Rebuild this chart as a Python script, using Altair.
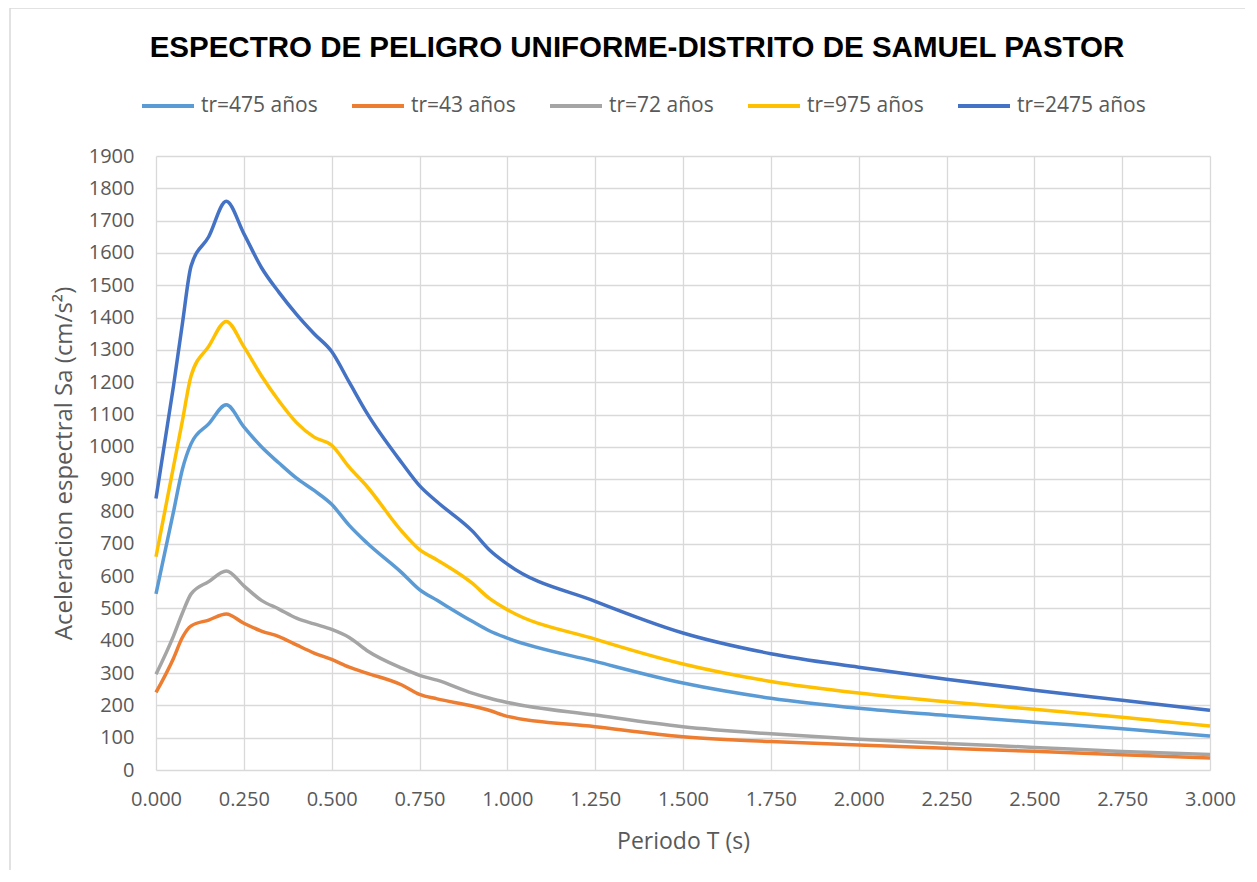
import altair as alt
import pandas as pd

periods = [0.0, 0.05, 0.075, 0.1, 0.15, 0.2, 0.25, 0.3, 0.35, 0.4, 0.45, 0.5, 0.55, 0.6,
           0.7, 0.75, 0.8, 0.9, 0.95, 1.0, 1.25, 1.5, 1.75, 2.0, 2.25, 2.5, 2.75, 3.0]

tr475 = [545, 800, 930, 1010, 1071, 1130, 1062, 1000, 950, 903, 865, 822, 757, 703,
         610, 558, 525, 460, 430, 408, 336, 269, 222, 191, 169, 148, 128, 105]
tr43 = [240, 346, 410, 446, 464, 483, 454, 430, 413, 387, 362, 342, 318, 300,
        263, 234, 220, 198, 184, 166, 134, 103, 88, 77, 67, 58, 47, 37]
tr72 = [296, 415, 485, 545, 583, 616, 570, 525, 498, 470, 452, 435, 410, 370,
        315, 293, 278, 238, 222, 209, 170, 134, 112, 95, 82, 70, 57, 48]
tr975 = [660, 940, 1080, 1220, 1311, 1388, 1310, 1220, 1142, 1075, 1030, 1005, 937, 878,
         738, 682, 650, 578, 530, 496, 405, 328, 274, 238, 211, 188, 163, 136]
tr2475 = [840, 1190, 1380, 1560, 1650, 1760, 1660, 1555, 1478, 1410, 1350, 1295, 1200, 1105,
          950, 880, 830, 740, 680, 637, 522, 424, 360, 318, 281, 247, 216, 185]

series_names = ["tr=475 años", "tr=43 años", "tr=72 años", "tr=975 años", "tr=2475 años"]
series_values = [tr475, tr43, tr72, tr975, tr2475]
series_colors = ["#5B9BD5", "#ED7D31", "#A5A5A5", "#FFC000", "#4472C4"]

y_ticks = list(range(0, 2000, 100))
x_ticks = [i * 0.25 for i in range(13)]

rows = []
for order, (name, vals) in enumerate(zip(series_names, series_values)):
    for p, v in zip(periods, vals):
        rows.append({"serie": name, "T": p, "Sa": v, "ord": order})
df = pd.DataFrame(rows)

W, H = 1054, 614
FONT = "Open Sans"
GRAY = "#595959"

lines = alt.Chart(df).mark_line(interpolate="monotone", strokeWidth=3.5).encode(
    x=alt.X("T:Q",
            scale=alt.Scale(domain=[0, 3], nice=False, zero=True),
            axis=alt.Axis(values=x_ticks, format=".3f", title="Periodo T (s)",
                          grid=True, gridColor="#D9D9D9", gridWidth=1.3,
                          domain=False, ticks=False, labelFlush=False,
                          labelFont=FONT, labelFontSize=20, labelColor=GRAY,
                          labelPadding=19, titleFont=FONT, titleFontSize=23,
                          titleColor=GRAY, titleFontWeight="normal", titlePadding=21)),
    y=alt.Y("Sa:Q",
            scale=alt.Scale(domain=[0, 1900], nice=False),
            axis=alt.Axis(values=y_ticks, format="d",
                          title="Aceleracion espectral Sa (cm/s²)",
                          grid=True, gridColor="#D9D9D9", gridWidth=1.3,
                          domain=False, ticks=False,
                          labelFont=FONT, labelFontSize=20, labelColor=GRAY,
                          labelPadding=22, titleFont=FONT, titleFontSize=24,
                          titleColor=GRAY, titleFontWeight="normal", titlePadding=12)),
    color=alt.Color("serie:N",
                    scale=alt.Scale(domain=series_names, range=series_colors),
                    legend=alt.Legend(title=None, orient="none", direction="horizontal",
                                      columns=5, legendX=-16, legendY=-78,
                                      symbolType="stroke", symbolSize=2704,
                                      symbolStrokeWidth=4, labelOffset=5,
                                      columnPadding=26, padding=0,
                                      labelFont=FONT, labelFontSize=21,
                                      labelColor=GRAY)),
    order=alt.Order("ord:Q"),
    detail="serie:N",
)

frame_df = pd.DataFrame({"k": [0]})
frame = alt.Chart(frame_df).mark_rect(filled=False, stroke="#D9D9D9", strokeWidth=1.5).encode(
    x=alt.value(-146), x2=alt.value(W + 80),
    y=alt.value(-148), y2=alt.value(H + 160),
)

chart = alt.layer(frame, lines).properties(
    width=W, height=H,
    autosize=alt.AutoSizeParams(type="none"),
    padding={"left": 148, "top": 148, "right": 35, "bottom": 100},
    title=alt.TitleParams("ESPECTRO DE PELIGRO UNIFORME-DISTRITO DE SAMUEL PASTOR",
                          font="Liberation Sans", fontSize=29.5, fontWeight="bold",
                          color="#000000", anchor="middle", frame="group",
                          dx=-46, offset=0, dy=56),
).configure_view(stroke=None)

chart.save("out.html", embed_options={"renderer": "svg", "actions": False})
